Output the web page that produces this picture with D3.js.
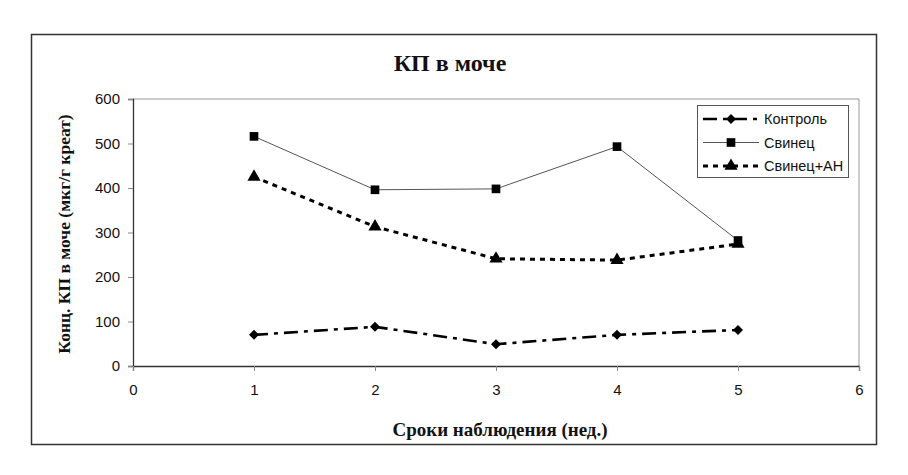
<!DOCTYPE html>
<html><head><meta charset="utf-8">
<script src="https://cdn.jsdelivr.net/npm/d3@7"></script>
<style>body{margin:0;background:#fff}svg{display:block}</style>
</head><body>
<script>
const weeks = [1, 2, 3, 4, 5];
const kontrol = [70, 88, 49, 70, 81];
const svinets = [516, 396, 398, 493, 282];
const svinetsAN = [425, 313, 241, 238, 274];
const seriesNames = ["Контроль", "Свинец", "Свинец+АН"];
const yTicks = [0, 100, 200, 300, 400, 500, 600];
const xTicks = [0, 1, 2, 3, 4, 5, 6];

const W = 908, H = 475;
const svg = d3.select("body").append("svg").attr("width", W).attr("height", H);
svg.append("rect").attr("width", W).attr("height", H).attr("fill", "#fff");

// outer frame
svg.append("rect").attr("x", 31.5).attr("y", 34.5).attr("width", 845).attr("height", 410)
  .attr("fill", "none").attr("stroke", "#333").attr("stroke-width", 1.5);

const x = d3.scaleLinear().domain([0, 6]).range([133, 859]);
const y = d3.scaleLinear().domain([0, 600]).range([366, 99]);

// plot border top/right
svg.append("path").attr("d", `M${x(0)},${y(600)}H${x(6)}V${y(0)}`)
  .attr("fill", "none").attr("stroke", "#999").attr("stroke-width", 1);

const yAxis = svg.append("g").attr("transform", `translate(${x(0)},0)`)
  .call(d3.axisLeft(y).tickValues(yTicks).tickSize(5).tickPadding(8).tickFormat(d3.format("d")));
const xAxis = svg.append("g").attr("transform", `translate(0,${y(0)})`)
  .call(d3.axisBottom(x).tickValues(xTicks).tickSize(5).tickPadding(13).tickFormat(d3.format("d")));
[yAxis, xAxis].forEach(g => {
  g.select(".domain").attr("stroke", "#333").attr("stroke-width", 1.3);
  g.selectAll(".tick line").attr("stroke", "#888");
  g.selectAll("text").attr("font-family", "Liberation Sans, Arial, sans-serif")
    .attr("font-size", 15).attr("fill", "#111");
});

const series = [
  {name: seriesNames[0], vals: kontrol, stroke: "#000", width: 2.6, dash: "14,6,4,6", marker: "diamond"},
  {name: seriesNames[1], vals: svinets, stroke: "#555", width: 1, dash: null, marker: "square"},
  {name: seriesNames[2], vals: svinetsAN, stroke: "#000", width: 3, dash: "5,5", marker: "triangle"}
];
const symType = {diamond: d3.symbolSquare, square: d3.symbolSquare, triangle: d3.symbolTriangle};
const symSize = {diamond: 50, square: 75, triangle: 75};
const symRot = {diamond: 45, square: 0, triangle: 0};

const line = d3.line().x((d, i) => x(weeks[i])).y(d => y(d));
series.forEach(s => {
  svg.append("path").attr("d", line(s.vals)).attr("fill", "none")
    .attr("stroke", s.stroke).attr("stroke-width", s.width)
    .attr("stroke-dasharray", s.dash);
  svg.append("g").selectAll("path").data(s.vals).join("path")
    .attr("transform", (d, i) => `translate(${x(weeks[i])},${y(d)}) rotate(${symRot[s.marker]})`)
    .attr("d", d3.symbol().type(symType[s.marker]).size(symSize[s.marker]))
    .attr("fill", "#000");
});

// legend
const lg = svg.append("g");
lg.append("rect").attr("x", 697.5).attr("y", 105.5).attr("width", 151).attr("height", 72)
  .attr("fill", "#fff").attr("stroke", "#555").attr("stroke-width", 1);
series.forEach((s, i) => {
  const ly = 119 + i * 23.5;
  lg.append("line").attr("x1", 703).attr("x2", 759).attr("y1", ly).attr("y2", ly)
    .attr("stroke", s.stroke).attr("stroke-width", s.width).attr("stroke-dasharray", s.dash);
  lg.append("path").attr("transform", `translate(731,${ly}) rotate(${symRot[s.marker]})`)
    .attr("d", d3.symbol().type(symType[s.marker]).size(symSize[s.marker])).attr("fill", "#000");
  lg.append("text").attr("x", 764).attr("y", ly).attr("dy", "0.35em")
    .attr("font-family", "Liberation Sans, Arial, sans-serif").attr("font-size", 14.5)
    .attr("fill", "#111").text(s.name);
});

// titles
svg.append("text").attr("x", 450).attr("y", 71).attr("text-anchor", "middle")
  .attr("font-family", "Liberation Serif, Times New Roman, serif").attr("font-weight", "bold")
  .attr("font-size", 24).attr("fill", "#111").text("КП в моче");
svg.append("text").attr("x", 500).attr("y", 436).attr("text-anchor", "middle")
  .attr("font-family", "Liberation Serif, Times New Roman, serif").attr("font-weight", "bold")
  .attr("font-size", 19).attr("fill", "#111").text("Сроки наблюдения (нед.)");
svg.append("text").attr("transform", `translate(70,234) rotate(-90)`).attr("text-anchor", "middle")
  .attr("font-family", "Liberation Serif, Times New Roman, serif").attr("font-weight", "bold")
  .attr("font-size", 17.5).attr("fill", "#111").text("Конц. КП в моче (мкг/г креат)");
</script>
</body></html>
